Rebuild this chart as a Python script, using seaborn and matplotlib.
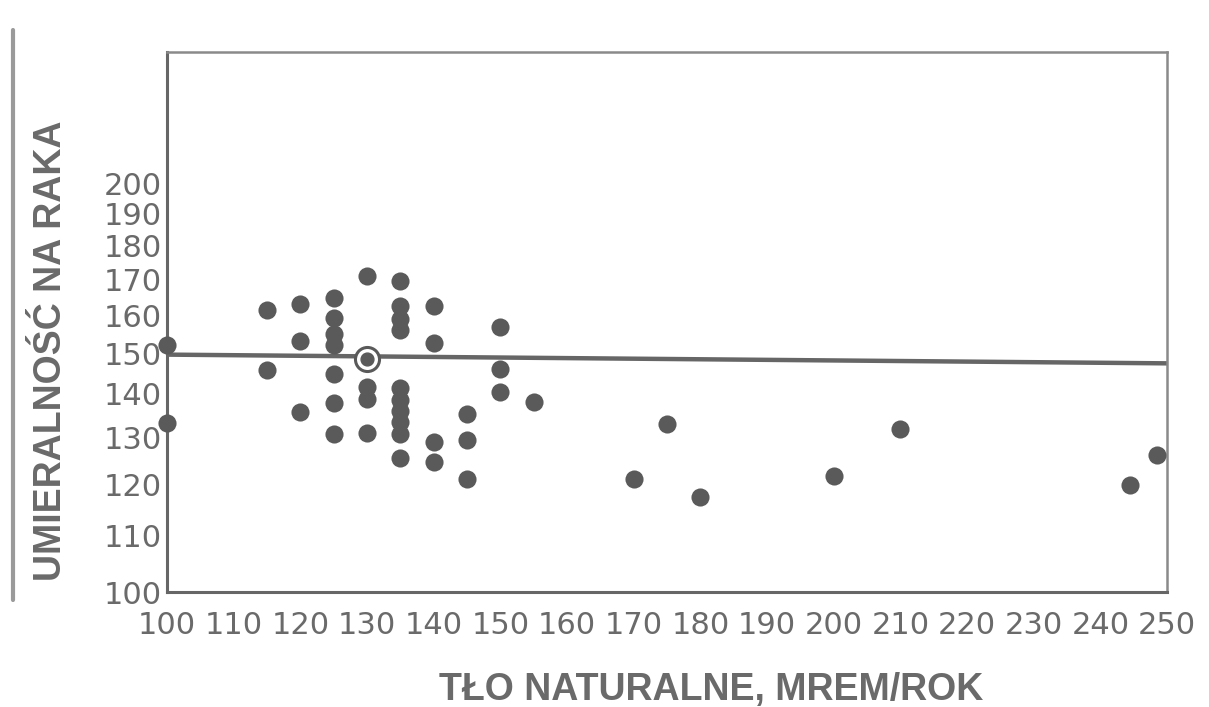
import numpy as np
import pandas as pd
import matplotlib.pyplot as plt
import matplotlib.lines as mlines
from matplotlib.ticker import FixedLocator, NullLocator, FixedFormatter
import seaborn as sns

# background radiation (mrem/year) vs cancer mortality
background = [100, 100, 115, 115, 120, 120, 120,
              125, 125, 125, 125, 125, 125, 125,
              130, 130, 130, 130,
              135, 135, 135, 135, 135, 135, 135, 135, 135, 135,
              140, 140, 140, 140, 145, 145, 145,
              150, 150, 150, 155, 170, 175, 180, 200, 210, 244.5, 248.5]
mortality = [152, 133.3, 161.5, 145.8, 163, 153, 135.7,
             164.6, 159.2, 155, 152, 144.7, 137.9, 130.8,
             171, 141.6, 138.8, 131,
             169.4, 162.6, 159, 156, 141.4, 138.6, 136, 133.4, 130.8, 125.5,
             162.4, 152.5, 128.9, 124.7, 135.3, 129.4, 121.2,
             156.8, 146, 140.3, 138, 121.2, 132.9, 117.4, 121.8, 131.8, 120, 126.2]

# the single open-circle point and the average line
marked_x = [130]
marked_y = [148.5]
avg_x = [100, 250]
avg_y = [149.6, 147.4]

x_ticks = list(range(100, 251, 10))
y_ticks = list(range(100, 201, 10))

df = pd.DataFrame({"tlo": background, "umieralnosc": mortality})

sns.set_style("white")
plt.rcParams['font.family'] = ['DejaVu Sans']

ink = "#5a5a5a"
txt = "#6a6a6a"

fig = plt.figure(figsize=(12.09, 7.07), dpi=100)
ax = fig.add_axes([167 / 1209, 1 - 592 / 707, 1000 / 1209, 540 / 707])

ax.plot(avg_x, avg_y, color="#666666", lw=3.2, zorder=2)
sns.scatterplot(data=df, x="tlo", y="umieralnosc", ax=ax, s=170,
                color=ink, edgecolor=ink, linewidth=0, zorder=3, clip_on=False)
ax.scatter(marked_x, marked_y, s=300, facecolor="white", edgecolor=ink,
           linewidth=2.2, zorder=4)
ax.scatter(marked_x, marked_y, s=85, color=ink, zorder=5)

ax.set_yscale("log")
ax.set_xlim(100, 250)
ax.set_ylim(100, 250)
ax.xaxis.set_major_locator(FixedLocator(x_ticks))
ax.yaxis.set_major_locator(FixedLocator(y_ticks))
ax.yaxis.set_minor_locator(NullLocator())
ax.yaxis.set_major_formatter(FixedFormatter([str(v) for v in y_ticks]))
ax.set_xticklabels([str(v) for v in x_ticks])

ax.tick_params(axis="both", direction="in", length=10, width=1.8,
               color="#666666", labelcolor=txt, labelsize=22)
ax.tick_params(axis="x", pad=14)
ax.tick_params(axis="y", pad=4)
ax.tick_params(axis="x", which="both", top=False)
ax.tick_params(axis="y", which="both", right=False)

for side in ["left", "bottom"]:
    ax.spines[side].set_color("#666666")
    ax.spines[side].set_linewidth(2.2)
for side in ["top", "right"]:
    ax.spines[side].set_color("#8a8a8a")
    ax.spines[side].set_linewidth(1.8)

ax.set_xlabel("")
ax.set_ylabel("")

label_font = ['Liberation Sans', 'DejaVu Sans']
fig.text(711 / 1209, 1 - 690 / 707, "TŁO NATURALNE, MREM/ROK",
         ha="center", va="center", fontsize=27, fontweight="bold",
         color=txt, family=label_font)
fig.text(51 / 1209, 1 - 351 / 707, "UMIERALNOŚĆ NA RAKA",
         ha="center", va="center", rotation=90, fontsize=27,
         fontweight="bold", color=txt, family=label_font)

# page edge from the scan
fig.add_artist(mlines.Line2D([13 / 1209, 13 / 1209], [1 - 30 / 707, 1 - 600 / 707],
                             color="#9a9a9a", lw=3, transform=fig.transFigure))

fig.savefig("out.png", dpi=100, facecolor="white")
